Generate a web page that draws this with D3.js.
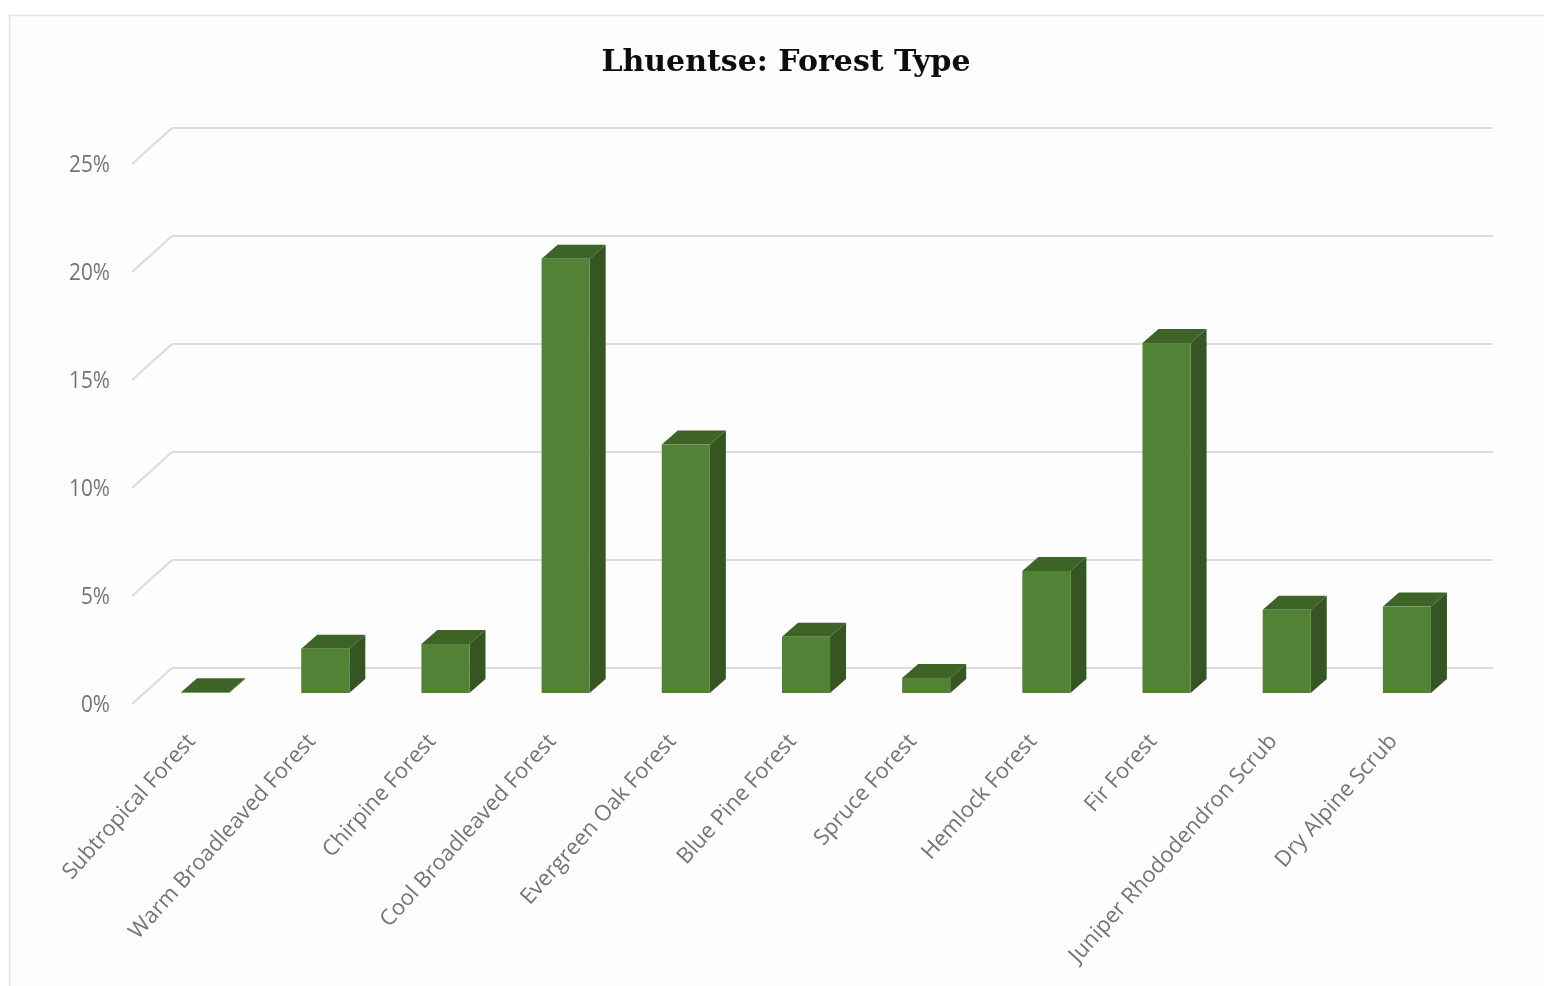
<!DOCTYPE html>
<html><head><meta charset="utf-8">
<script src="https://d3js.org/d3.v7.min.js"></script>
<style>
html,body{margin:0;padding:0;background:#fff}
svg{display:block}
text{font-family:"Open Sans",sans-serif}
</style></head><body>
<svg id="c" width="1544" height="986"></svg>
<script>
const categories=["Subtropical Forest","Warm Broadleaved Forest","Chirpine Forest","Cool Broadleaved Forest","Evergreen Oak Forest","Blue Pine Forest","Spruce Forest","Hemlock Forest","Fir Forest","Juniper Rhododendron Scrub","Dry Alpine Scrub"];
const shares=[0.03,2.05,2.27,20.1,11.5,2.6,0.7,5.65,16.2,3.85,4.0];
const tickValues=[0,5,10,15,20,25];
const titleText="Lhuentse: Forest Type";

const root=d3.select("#c");
root.append("defs").append("filter").attr("id","soft")
  .attr("filterUnits","userSpaceOnUse").attr("x",0).attr("y",0).attr("width",1544).attr("height",986)
  .append("feGaussianBlur").attr("stdDeviation",0.7);
const svg=root.append("g").attr("filter","url(#soft)");

const x=d3.scaleBand().domain(categories).range([145,1467]).paddingInner(0.6).paddingOuter(0.3);
const y=d3.scaleLinear().domain([0,25]).range([693,153]);
const depth={dx:16,dy:-14};

svg.append("rect").attr("x",9.5).attr("y",15.5).attr("width",1560).attr("height",1000)
  .attr("fill","#fdfdfd").attr("stroke","#e4e4e4").attr("stroke-width",1.6);

svg.append("text").attr("x",786).attr("y",71).attr("text-anchor","middle")
  .style("font-family","'DejaVu Serif',serif").style("font-weight","700").style("font-size","30px")
  .attr("fill","#111").text(titleText);

const grid=svg.append("g").attr("fill","none").attr("stroke-linejoin","round");
tickValues.forEach(v=>{
  const yb=y(v)-25;
  grid.append("path").attr("d",`M132,${yb+36}L172,${yb}L1493,${yb}`).attr("stroke","#dcdcdc").attr("stroke-width",2.2);
});

const yAxis=d3.axisLeft(y).tickValues(tickValues).tickSize(0).tickPadding(0).tickFormat(d=>d+"%");
const gy=svg.append("g").attr("transform","translate(110,11)").call(yAxis);
gy.select(".domain").remove();
gy.selectAll("text").attr("fill","#747474").style("font-size","23px").style("font-family","'Open Sans',sans-serif")
  .attr("textLength",d=>d<10?29:41).attr("lengthAdjust","spacingAndGlyphs");

const bars=svg.append("g").selectAll("g").data(categories).join("g");
const w=x.bandwidth();
bars.append("path").attr("fill","#3d6327").attr("d",(d,i)=>{
  const l=x(d),t=y(shares[i]);
  return `M${l},${t}L${l+depth.dx},${t+depth.dy}L${l+w+depth.dx},${t+depth.dy}L${l+w},${t}Z`;
});
bars.append("path").attr("fill","#365722").attr("d",(d,i)=>{
  const l=x(d)+w,t=y(shares[i]),b=y(0);
  return `M${l},${t}L${l+depth.dx},${t+depth.dy}L${l+depth.dx},${b+depth.dy}L${l},${b}Z`;
});
bars.append("rect").attr("fill","#518236")
  .attr("x",d=>x(d)).attr("width",w)
  .attr("y",(d,i)=>y(shares[i])).attr("height",(d,i)=>y(0)-y(shares[i]));

const xAxis=d3.axisBottom(x).tickSize(0).tickPadding(0);
const gx=svg.append("g").attr("transform","translate(0,735)").call(xAxis);
gx.select(".domain").remove();
gx.selectAll("text").attr("fill","#747474").style("font-size","22px").style("font-family","'Open Sans',sans-serif")
  .attr("text-anchor","end").attr("dy",0).attr("y",0).attr("x",0)
  .attr("dominant-baseline","hanging")
  .attr("transform","translate(-23,-6) rotate(-48)");
</script></body></html>
